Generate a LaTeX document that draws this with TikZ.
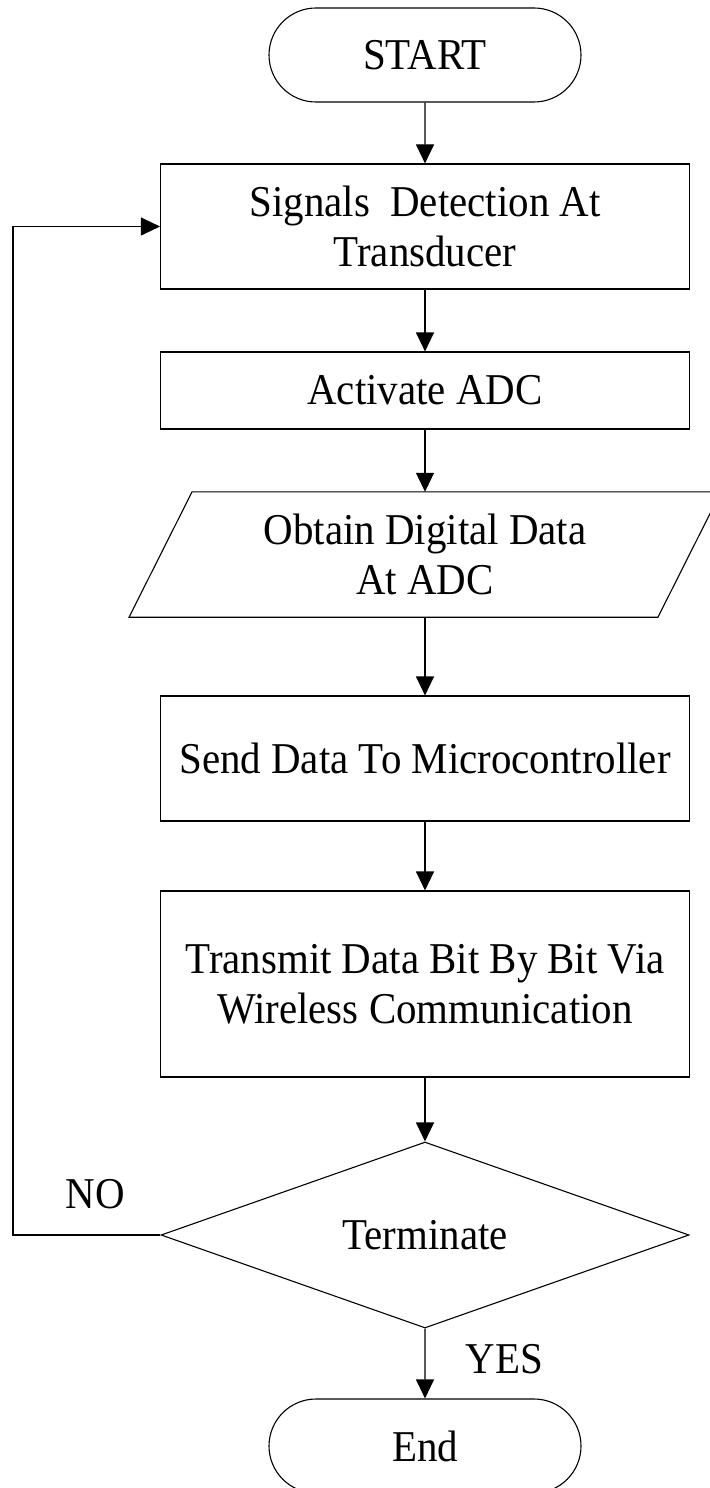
\documentclass[tikz,border=0pt]{standalone}
\usepackage{fontspec}
\setmainfont{Liberation Serif}[FakeStretch=0.93]
\usetikzlibrary{arrows.meta,shapes.geometric,shapes.misc}
\begin{document}
\begin{tikzpicture}[x=1bp,y=-1bp,
  every node/.style={font=\fontsize{44bp}{50bp}\selectfont, inner sep=0pt},
  line/.style={draw=black, line width=1.1bp},
  terminal/.style={line, rounded rectangle, minimum width=312bp, minimum height=94bp},
  process/.style={line, rectangle, minimum width=529bp, align=center},
  decision/.style={line, diamond, aspect=2.84, minimum width=528bp, minimum height=186bp},
  flow/.style={line, -{Triangle[length=19bp,width=18bp]}},
  lbl/.style={}]
  \useasboundingbox (0,0) rectangle (710,1488);

  % flow steps
  \node[terminal] (start) at (425,55) {START};
  \node[process, minimum height=125bp] (detect) at (425,226.5) {Signals\ \ Detection At\\Transducer};
  \node[process, minimum height=77bp] (adc) at (425,390.5) {Activate ADC};
  \node[align=center, minimum width=528.5bp, minimum height=125bp] (obtain) at (425,554.5) {Obtain Digital Data\\At ADC};
  \draw[line] ([xshift=31.5bp]obtain.north west) -- ([xshift=31.5bp]obtain.north east)
    -- ([xshift=-31.5bp]obtain.south east) -- ([xshift=-31.5bp]obtain.south west) -- cycle;
  \node[process, minimum height=125bp] (send) at (425,758.5) {Send Data To Microcontroller};
  \node[process, minimum height=186bp] (tx) at (425,984) {Transmit Data Bit By Bit Via\\Wireless Communication};
  \node[decision] (term) at (425,1235) {Terminate};
  \node[terminal] (end) at (425,1446) {End};

  % branch labels
  \node[lbl] (no) at (95.5,1194.5) {NO};
  \node[lbl] (yes) at (504.5,1359.5) {YES};

  % connectors
  \draw[flow] (start) -- (detect);
  \draw[flow] (detect) -- (adc);
  \draw[flow] (adc) -- (obtain);
  \draw[flow] (obtain) -- (send);
  \draw[flow] (send) -- (tx);
  \draw[flow] (tx) -- (term);
  \draw[flow] (term) -- (end);
  \coordinate (loopx) at (13,700);
  \draw[flow] (term.west) -| (loopx) |- (detect.west);
\end{tikzpicture}
\end{document}
